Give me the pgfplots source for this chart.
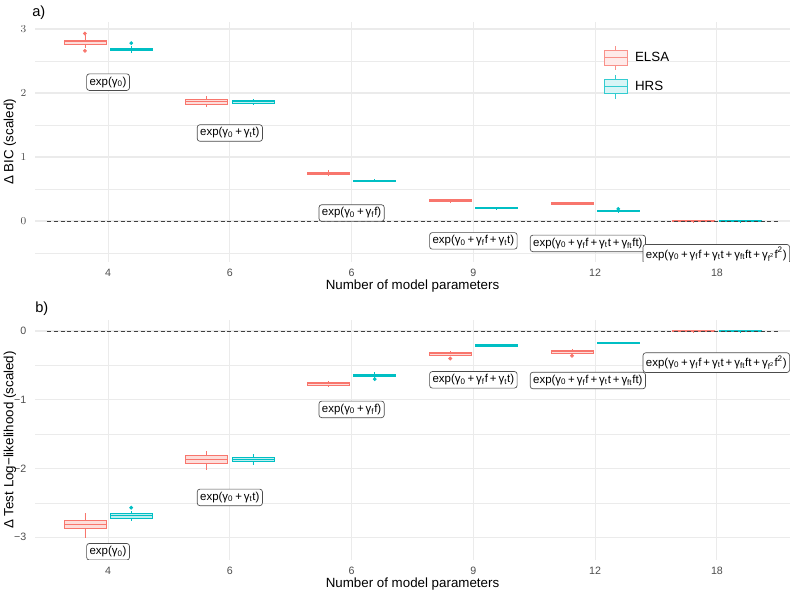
\documentclass[border=0pt]{standalone}
\usepackage{fontspec}
\setmainfont{Liberation Sans}
\usepackage{pgfplots}
\pgfplotsset{compat=1.18}
\usepgfplotslibrary{statistics}

\definecolor{elsa}{HTML}{F8766D}
\definecolor{hrs}{HTML}{00BFC4}
\definecolor{gridc}{HTML}{EBEBEB}
\definecolor{tickc}{HTML}{4D4D4D}

\pgfplotsset{
  panel/.style={
    scale only axis, width=566.25pt, height=180pt, anchor=south west,
    xmin=0.4, xmax=6.6,
    xtick={1,2,3,4,5,6}, xticklabels={4,6,6,9,12,18},
    axis line style={draw=none}, major tick length=0pt, minor tick length=0pt,
    grid=major, minor y tick num=0,
    major grid style={gridc, line width=0.8pt},
    minor grid style={gridc, line width=0.4pt},
    yminorgrids=true,
    tick label style={font=\fontsize{8}{9}\selectfont, text=tickc},
    xticklabel style={yshift=-2pt},
    yticklabel style={xshift=-3pt},
    every axis x label/.style={at={(axis description cs:0.5,-0.1)}, anchor=center, font=\fontsize{10}{12}\selectfont},
    every axis y label/.style={at={(axis description cs:-0.0331,0.5)}, rotate=90, anchor=center, font=\fontsize{10}{12}\selectfont},
    boxplot/draw direction=y,
  },
  elsabox/.style={draw=elsa, fill=elsa!25, line width=0.6pt, mark=*, mark size=1.1pt, mark options={fill=elsa, draw=elsa}},
  hrsbox/.style={draw=hrs, fill=hrs!25, line width=0.6pt, mark=*, mark size=1.1pt, mark options={fill=hrs, draw=hrs}},
  bx/.style={boxplot/box extend=0.345, boxplot/whisker extend=0},
}
\tikzset{lbl/.style={draw=black!70, fill=white, rounded corners=2pt, inner sep=2.2pt, line width=0.5pt, font=\fontsize{8.6}{10}\selectfont}}

\begin{document}
\begin{tikzpicture}
\path[use as bounding box] (0,0) rectangle (594.75pt,446.25pt);

% ---------- a) BIC ----------
\begin{axis}[panel, at={(26.25pt,249.75pt)},
  ymin=-0.64, ymax=3.11, ytick={0,1,2,3},
  minor ytick={-0.5,0.5,1.5,2.5},
  xlabel={Number of model parameters}, ylabel={Δ BIC (scaled)},
  legend style={at={(axis description cs:0.748,0.915)}, anchor=north west, draw=none, fill=none,
    font=\fontsize{10}{12}\selectfont, row sep=3pt, nodes={inner xsep=3pt}},
  legend cell align=left,
]
\addlegendimage{legend image code/.code={
  \path[draw=none, fill=none] (0pt,0pt) -- (20pt,0pt);
  \draw[elsa!80, fill=elsa!15, line width=0.6pt] (0pt,-5.5pt) rectangle (17pt,5.5pt);
  \draw[elsa!80, line width=0.6pt] (0pt,0pt)--(17pt,0pt) (8.5pt,5.5pt)--(8.5pt,9pt) (8.5pt,-5.5pt)--(8.5pt,-9pt);}}
\addlegendentry{ELSA}
\addlegendimage{legend image code/.code={
  \path[draw=none, fill=none] (0pt,0pt) -- (20pt,0pt);
  \draw[hrs!80, fill=hrs!15, line width=0.6pt] (0pt,-5.5pt) rectangle (17pt,5.5pt);
  \draw[hrs!80, line width=0.6pt] (0pt,0pt)--(17pt,0pt) (8.5pt,5.5pt)--(8.5pt,9pt) (8.5pt,-5.5pt)--(8.5pt,-9pt);}}
\addlegendentry{HRS}

% ELSA
\addplot[elsabox, bx, boxplot prepared={draw position=0.81, lower whisker=2.70, lower quartile=2.76, median=2.80, upper quartile=2.83, upper whisker=2.90}] table[row sep=\\, y index=0] {2.93\\ 2.66\\};
\addplot[elsabox, bx, boxplot prepared={draw position=1.81, lower whisker=1.78, lower quartile=1.83, median=1.87, upper quartile=1.90, upper whisker=1.95}] coordinates {};
\addplot[elsabox, bx, boxplot prepared={draw position=2.81, lower whisker=0.70, lower quartile=0.73, median=0.745, upper quartile=0.765, upper whisker=0.79}] coordinates {};
\addplot[elsabox, bx, boxplot prepared={draw position=3.81, lower whisker=0.29, lower quartile=0.30, median=0.317, upper quartile=0.333, upper whisker=0.345}] coordinates {};
\addplot[elsabox, bx, boxplot prepared={draw position=4.81, lower whisker=0.255, lower quartile=0.262, median=0.276, upper quartile=0.29, upper whisker=0.30}] coordinates {};
\addplot[elsabox, bx, boxplot prepared={draw position=5.81, lower whisker=-0.015, lower quartile=-0.012, median=0, upper quartile=0.012, upper whisker=0.015}] coordinates {};
% HRS
\addplot[hrsbox, bx, boxplot prepared={draw position=1.19, lower whisker=2.63, lower quartile=2.66, median=2.68, upper quartile=2.70, upper whisker=2.73}] table[row sep=\\, y index=0] {2.78\\};
\addplot[hrsbox, bx, boxplot prepared={draw position=2.19, lower whisker=1.82, lower quartile=1.845, median=1.87, upper quartile=1.89, upper whisker=1.91}] coordinates {};
\addplot[hrsbox, bx, boxplot prepared={draw position=3.19, lower whisker=0.61, lower quartile=0.618, median=0.63, upper quartile=0.642, upper whisker=0.65}] coordinates {};
\addplot[hrsbox, bx, boxplot prepared={draw position=4.19, lower whisker=0.19, lower quartile=0.195, median=0.203, upper quartile=0.212, upper whisker=0.215}] coordinates {};
\addplot[hrsbox, bx, boxplot prepared={draw position=5.19, lower whisker=0.145, lower quartile=0.148, median=0.156, upper quartile=0.165, upper whisker=0.17}] table[row sep=\\, y index=0] {0.19\\};
\addplot[hrsbox, bx, boxplot prepared={draw position=6.19, lower whisker=-0.015, lower quartile=-0.012, median=0, upper quartile=0.012, upper whisker=0.015}] coordinates {};

\addplot[black!75, line width=0.7pt, dash pattern=on 3pt off 2pt] coordinates {(0.5,0) (6.5,0)};

\node[lbl] at (axis cs:1,2.17) {exp(γ\textsubscript{0})};
\node[lbl] at (axis cs:2,1.375) {exp(γ\textsubscript{0}\,+\,γ\textsubscript{t}t)};
\node[lbl] at (axis cs:3,0.125) {exp(γ\textsubscript{0}\,+\,γ\textsubscript{f}f)};
\node[lbl] at (axis cs:4,-0.31) {exp(γ\textsubscript{0}\,+\,γ\textsubscript{f}f\,+\,γ\textsubscript{t}t)};
\node[lbl] at (axis cs:4.94,-0.35) {exp(γ\textsubscript{0}\,+\,γ\textsubscript{f}f\,+\,γ\textsubscript{t}t\,+\,γ\textsubscript{ft}ft)};
\node[lbl] at (axis cs:5.995,-0.52) {exp(γ\textsubscript{0}\,+\,γ\textsubscript{f}f\,+\,γ\textsubscript{t}t\,+\,γ\textsubscript{ft}ft\,+\,γ\textsubscript{f\textsuperscript{2}}f\textsuperscript{2})};
\end{axis}

% ---------- b) Test log-likelihood ----------
\begin{axis}[panel, at={(26.25pt,26.25pt)},
  ymin=-3.33, ymax=0.16, ytick={-3,-2,-1,0}, yticklabels={−3,−2,−1,0},
  minor ytick={-2.5,-1.5,-0.5},
  xlabel={Number of model parameters}, ylabel={Δ Test Log−likelihood (scaled)},
]
% ELSA
\addplot[elsabox, bx, boxplot prepared={draw position=0.81, lower whisker=-3.01, lower quartile=-2.87, median=-2.81, upper quartile=-2.75, upper whisker=-2.65}] coordinates {};
\addplot[elsabox, bx, boxplot prepared={draw position=1.81, lower whisker=-2.02, lower quartile=-1.92, median=-1.86, upper quartile=-1.81, upper whisker=-1.74}] coordinates {};
\addplot[elsabox, bx, boxplot prepared={draw position=2.81, lower whisker=-0.81, lower quartile=-0.79, median=-0.767, upper quartile=-0.75, upper whisker=-0.72}] coordinates {};
\addplot[elsabox, bx, boxplot prepared={draw position=3.81, lower whisker=-0.37, lower quartile=-0.35, median=-0.33, upper quartile=-0.31, upper whisker=-0.29}] table[row sep=\\, y index=0] {-0.40\\};
\addplot[elsabox, bx, boxplot prepared={draw position=4.81, lower whisker=-0.33, lower quartile=-0.32, median=-0.30, upper quartile=-0.28, upper whisker=-0.26}] table[row sep=\\, y index=0] {-0.36\\};
\addplot[elsabox, bx, boxplot prepared={draw position=5.81, lower whisker=-0.015, lower quartile=-0.012, median=0, upper quartile=0.012, upper whisker=0.015}] coordinates {};
% HRS
\addplot[hrsbox, bx, boxplot prepared={draw position=1.19, lower whisker=-2.76, lower quartile=-2.72, median=-2.68, upper quartile=-2.65, upper whisker=-2.62}] table[row sep=\\, y index=0] {-2.57\\};
\addplot[hrsbox, bx, boxplot prepared={draw position=2.19, lower whisker=-1.95, lower quartile=-1.90, median=-1.87, upper quartile=-1.84, upper whisker=-1.79}] coordinates {};
\addplot[hrsbox, bx, boxplot prepared={draw position=3.19, lower whisker=-0.68, lower quartile=-0.655, median=-0.64, upper quartile=-0.625, upper whisker=-0.60}] table[row sep=\\, y index=0] {-0.70\\};
\addplot[hrsbox, bx, boxplot prepared={draw position=4.19, lower whisker=-0.225, lower quartile=-0.22, median=-0.21, upper quartile=-0.20, upper whisker=-0.195}] coordinates {};
\addplot[hrsbox, bx, boxplot prepared={draw position=5.19, lower whisker=-0.185, lower quartile=-0.18, median=-0.17, upper quartile=-0.16, upper whisker=-0.155}] coordinates {};
\addplot[hrsbox, bx, boxplot prepared={draw position=6.19, lower whisker=-0.015, lower quartile=-0.012, median=0, upper quartile=0.012, upper whisker=0.015}] coordinates {};

\addplot[black!75, line width=0.7pt, dash pattern=on 3pt off 2pt] coordinates {(0.5,0) (6.5,0)};

\node[lbl] at (axis cs:1,-3.21) {exp(γ\textsubscript{0})};
\node[lbl] at (axis cs:2,-2.42) {exp(γ\textsubscript{0}\,+\,γ\textsubscript{t}t)};
\node[lbl] at (axis cs:3,-1.14) {exp(γ\textsubscript{0}\,+\,γ\textsubscript{f}f)};
\node[lbl] at (axis cs:4,-0.71) {exp(γ\textsubscript{0}\,+\,γ\textsubscript{f}f\,+\,γ\textsubscript{t}t)};
\node[lbl] at (axis cs:4.94,-0.72) {exp(γ\textsubscript{0}\,+\,γ\textsubscript{f}f\,+\,γ\textsubscript{t}t\,+\,γ\textsubscript{ft}ft)};
\node[lbl] at (axis cs:5.995,-0.46) {exp(γ\textsubscript{0}\,+\,γ\textsubscript{f}f\,+\,γ\textsubscript{t}t\,+\,γ\textsubscript{ft}ft\,+\,γ\textsubscript{f\textsuperscript{2}}f\textsuperscript{2})};
\end{axis}

\node[anchor=west, font=\fontsize{11}{13}\selectfont, inner sep=0pt] at (24pt,437pt) {a)};
\node[anchor=west, font=\fontsize{11}{13}\selectfont, inner sep=0pt] at (26.25pt,215pt) {b)};
\end{tikzpicture}
\end{document}
